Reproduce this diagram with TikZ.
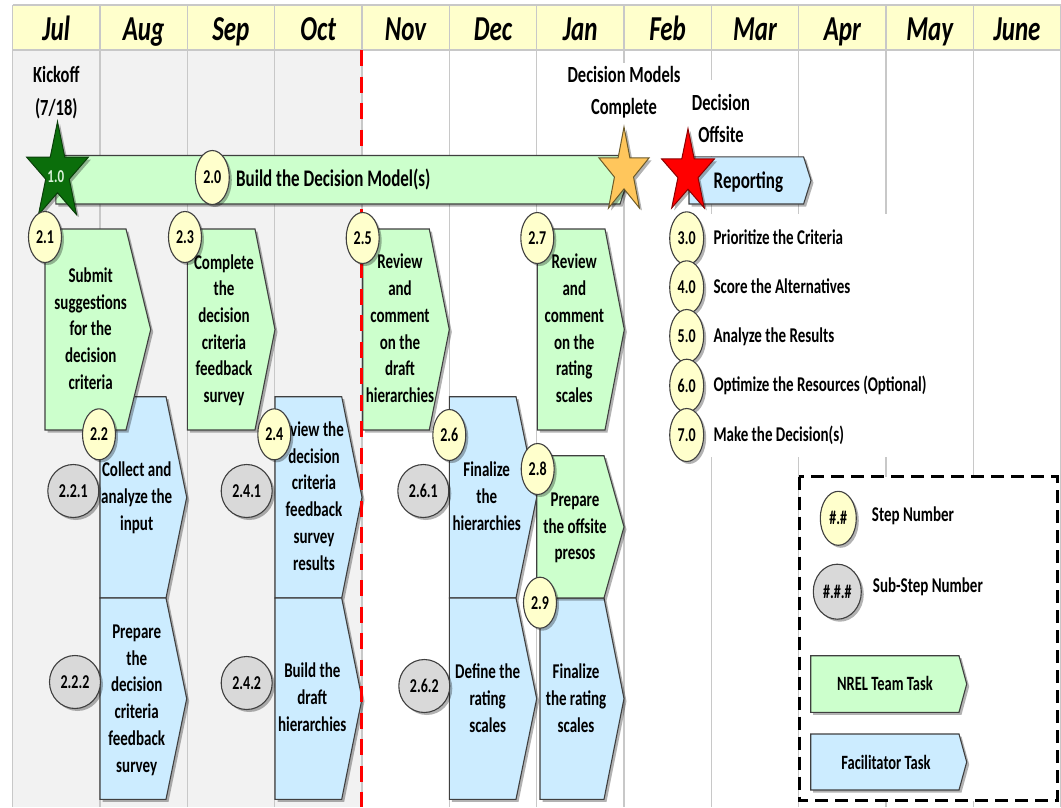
\documentclass[tikz,border=0pt]{standalone}
\usepackage{fontspec}
\setmainfont{Carlito}
\usetikzlibrary{shapes.geometric,shadows}
\definecolor{hdrfill}{HTML}{FFFFCC}
\definecolor{pastbg}{HTML}{F2F2F2}
\definecolor{gridc}{HTML}{C8C8C8}
\definecolor{edge}{HTML}{3F3F3F}
\definecolor{nrel}{HTML}{CCFFCC}
\definecolor{facil}{HTML}{CCECFF}
\definecolor{stepy}{HTML}{FFFFCC}
\definecolor{subg}{HTML}{D9D9D9}
\definecolor{kgreen}{HTML}{0B6E0B}
\definecolor{kgreenline}{HTML}{0A3F0A}
\definecolor{ostar}{HTML}{FFC65C}
\definecolor{ostarline}{HTML}{6B5A2A}
\definecolor{rstarline}{HTML}{8B0000}
\definecolor{onetext}{HTML}{D9F2D9}

\newcommand{\vs}[1]{\scalebox{1}[1.4]{#1}}
\newcommand{\vt}[1]{\scalebox{1}[1.4]{\begin{tabular}{@{}c@{}}#1\end{tabular}}}
% fill, x1, x2 (end of straight part), tip x, y1, y2
\newcommand{\pent}[6]{\path[task,fill=#1] (#2,#5) -- (#3,#5) -- (#4,{(#5+#6)/2}) -- (#3,#6) -- (#2,#6) -- cycle;}
% style, cx, cy, rx, ry
\newcommand{\fivestar}[5]{%
  \begin{scope}[shift={(#2,#3)}]
    \pgfmathsetmacro{\irx}{0.382*#4}
    \pgfmathsetmacro{\iry}{0.382*#5}
    \path[#1] (90:#4pt and #5pt) -- (126:\irx pt and \iry pt)
      -- (162:#4pt and #5pt) -- (198:\irx pt and \iry pt)
      -- (234:#4pt and #5pt) -- (270:\irx pt and \iry pt)
      -- (306:#4pt and #5pt) -- (342:\irx pt and \iry pt)
      -- (18:#4pt and #5pt) -- (54:\irx pt and \iry pt) -- cycle;
  \end{scope}}

\begin{document}
\begin{tikzpicture}[x=1pt,y=-1pt,
  shad/.style={drop shadow={shadow xshift=2.5pt,shadow yshift=-2.5pt,opacity=0.3,fill=black}},
  task/.style={draw=edge,line width=1.1pt,shad},
  body/.style={font=\fontsize{15}{19.1}\selectfont\bfseries,inner sep=0pt},
  stepc/.style={ellipse,draw=edge,line width=1.1pt,fill=stepy,minimum width=33pt,minimum height=51pt,inner sep=0pt,font=\fontsize{14}{16}\selectfont\bfseries,shad},
  subc/.style={stepc,fill=subg,minimum width=51pt,minimum height=53pt},
  month/.style={font=\fontsize{25}{30}\selectfont\bfseries\itshape,anchor=base,inner sep=0pt},
  lbl/.style={font=\fontsize{16.5}{23}\selectfont\bfseries,inner sep=0pt},
  item/.style={font=\fontsize{15}{18}\selectfont\bfseries,anchor=base west,inner sep=0pt},
  gridline/.style={draw=gridc,line width=1.3pt}
]
\useasboundingbox (0,0) rectangle (1061,807);
\clip (0,0) rectangle (1061,807);
\fill[white] (0,0) rectangle (1061,807);

% backgrounds
\fill[pastbg] (12.5,50) rectangle (361.9,807);
\fill[hdrfill] (12.5,5) rectangle (1061,50);
\foreach \k in {0,...,12} {
  \draw[gridline] ({12.5+87.35*\k},5) -- ({12.5+87.35*\k},807);
}
\draw[gridline] (12.5,5) -- (1061,5);
\draw[gridline] (12.5,50) -- (1061,50);

% month labels
\foreach \m [count=\i from 0] in {Jul,Aug,Sep,Oct,Nov,Dec,Jan,Feb,Mar,Apr,May,June} {
  \node[month] (m\i) at ({12.5+87.35*(\i+0.5)},40) {\vs{\m}};
}

% white areas behind labels and step list
\fill[white] (560,63) rectangle (688,156);
\fill[white] (688,80) rectangle (757,156);
\fill[white] (664,214) rectangle (962,457);

% legend box
\draw[black,line width=2.6pt,dash pattern=on 13pt off 7pt,fill=white] (799.3,476.7) rectangle (1057.5,800.7);

% facilitator tasks
\pent{facil}{100}{166}{186.7}{396.7}{598}
\pent{facil}{100}{166}{186.7}{598}{799.3}
\pent{facil}{275}{341.7}{362}{396.7}{598}
\pent{facil}{275}{341.7}{362}{598}{799.3}
\pent{facil}{449.3}{516}{536.7}{396.7}{598}
\pent{facil}{449.3}{516}{536.7}{598}{799.3}
\pent{facil}{540}{604}{624}{598}{799.3}
% NREL tasks
\pent{nrel}{45}{126}{150.7}{229}{430}
\pent{nrel}{187.3}{255}{275}{229}{430}
\pent{nrel}{362.7}{429.3}{449.3}{229}{430}
\pent{nrel}{537.3}{605}{624.3}{229}{430}
\pent{nrel}{536.7}{604}{624}{455.7}{598}

% red dashed "today" line
\draw[red,line width=3pt,dash pattern=on 16pt off 10.5pt] (361.9,50) -- (361.9,807);

% bars
\pent{nrel}{55.8}{620}{628}{155.5}{204}
\pent{facil}{689}{803.6}{811}{156.8}{204}

% legend shapes
\pent{nrel}{810.7}{959}{966.7}{655.7}{712.3}
\pent{facil}{810.7}{959}{966.7}{734}{790}

% stars
\fivestar{draw=kgreenline,fill=kgreen,line width=1pt,shad}{57.5}{173.1}{32.4}{51.4}
\fivestar{draw=ostarline,fill=ostar,line width=1pt,shad}{624}{171.8}{26.3}{44.8}
\fivestar{draw=rstarline,fill=red,line width=1pt,shad}{688}{172.5}{27.7}{43.8}

% top labels
\node[lbl] (kick) at (56.3,92.6) {\vt{Kickoff\\(7/18)}};
\node[lbl] (dmc) at (624,92) {\vt{Decision Models\\Complete}};
\node[lbl] (doff) at (721,120.4) {\vt{Decision\\Offsite}};
\node[font=\fontsize{13}{15}\selectfont\bfseries,text=onetext,anchor=base,inner sep=0pt] (one) at (55.8,182.6) {\vs{1.0}};
\node[font=\fontsize{17}{20}\selectfont\bfseries,anchor=base west,inner sep=0pt] (build) at (236,186) {\vs{Build the Decision Model(s)}};
\node[font=\fontsize{17}{20}\selectfont\bfseries,anchor=base,inner sep=0pt] (rep) at (748.4,188) {\vs{Reporting}};

% task texts
\node[body] (t21) at (90.7,330.5) {\vt{Submit\\suggestions\\for the\\decision\\criteria}};
\node[body] (t23) at (224,330.5) {\vt{Complete\\the\\decision\\criteria\\feedback\\survey}};
\node[body] (t25) at (400,330.3) {\vt{Review\\and\\comment\\on the\\draft\\hierarchies}};
\node[body] (t27) at (574.3,330.3) {\vt{Review\\and\\comment\\on the\\rating\\scales}};
\node[body] (t22) at (136.7,498) {\vt{Collect and\\analyze the\\input}};
\node[body] (t24) at (314,498) {\vt{\hspace*{6pt}view the\\decision\\criteria\\feedback\\survey\\results}};
\node[body] (t222) at (136.7,700) {\vt{Prepare\\the\\decision\\criteria\\feedback\\survey}};
\node[body] (t242) at (312.3,699) {\vt{Build the\\draft\\hierarchies}};
\node[body] (t26) at (486.7,498) {\vt{Finalize\\the\\hierarchies}};
\node[body] (t262) at (487.7,700) {\vt{Define the\\rating\\scales}};
\node[body] (t28) at (575,527.7) {\vt{Prepare\\the offsite\\presos}};
\node[body] (t29) at (576,700) {\vt{Finalize\\the rating\\scales}};

% later steps list
\node[item] (l3) at (713.3,244.3) {\vs{Prioritize the Criteria}};
\node[item] (l4) at (713.3,293.3) {\vs{Score the Alternatives}};
\node[item] (l5) at (713.3,342) {\vs{Analyze the Results}};
\node[item] (l6) at (713.3,391.7) {\vs{Optimize the Resources (Optional)}};
\node[item] (l7) at (713.3,441) {\vs{Make the Decision(s)}};

% legend texts
\node[item] (lgs) at (871.7,521.7) {\vs{Step Number}};
\node[item] (lgss) at (872.7,592.7) {\vs{Sub-Step Number}};
\node[font=\fontsize{14.5}{17}\selectfont\bfseries,anchor=base,inner sep=0pt] (lgn) at (885,690) {\vs{NREL Team Task}};
\node[font=\fontsize{14.5}{17}\selectfont\bfseries,anchor=base,inner sep=0pt] (lgf) at (886,769.3) {\vs{Facilitator Task}};

% step circles
\node[stepc,minimum width=34pt,minimum height=54pt] (s20) at (212.3,177.5) {\vs{2.0}};
\node[stepc] (s21) at (45,237) {\vs{2.1}};
\node[stepc] (s23) at (185,237) {\vs{2.3}};
\node[stepc] (s25) at (362.7,238) {\vs{2.5}};
\node[stepc] (s27) at (537.3,238) {\vs{2.7}};
\node[stepc] (s22) at (99,434.3) {\vs{2.2}};
\node[stepc] (s24) at (274.3,434.3) {\vs{2.4}};
\node[stepc] (s26) at (449.3,435) {\vs{2.6}};
\node[stepc] (s28) at (537.7,469) {\vs{2.8}};
\node[stepc] (s29) at (540,602.7) {\vs{2.9}};
% sub-step circles
\node[subc] (g221) at (73.3,491) {\vs{2.2.1}};
\node[subc] (g222) at (75,682) {\vs{2.2.2}};
\node[subc] (g241) at (246.7,491) {\vs{2.4.1}};
\node[subc] (g242) at (246.7,683) {\vs{2.4.2}};
\node[subc] (g261) at (423.3,491) {\vs{2.6.1}};
\node[subc] (g262) at (424.3,686) {\vs{2.6.2}};
% later step circles
\node[stepc,minimum width=34pt,minimum height=53pt] (s30) at (686.7,238.3) {\vs{3.0}};
\node[stepc,minimum width=34pt,minimum height=53pt] (s40) at (686.7,287.3) {\vs{4.0}};
\node[stepc,minimum width=34pt,minimum height=53pt] (s50) at (686.7,336) {\vs{5.0}};
\node[stepc,minimum width=34pt,minimum height=53pt] (s60) at (686.7,385.7) {\vs{6.0}};
\node[stepc,minimum width=34pt,minimum height=53pt] (s70) at (686.7,435) {\vs{7.0}};
% legend circles
\node[stepc,minimum width=36pt,minimum height=54pt] (lgc1) at (838.3,518.3) {\vs{\#.\#}};
\node[subc,minimum width=48pt,minimum height=55pt] (lgc2) at (837.3,591.7) {\vs{\#.\#.\#}};
\end{tikzpicture}
\end{document}
